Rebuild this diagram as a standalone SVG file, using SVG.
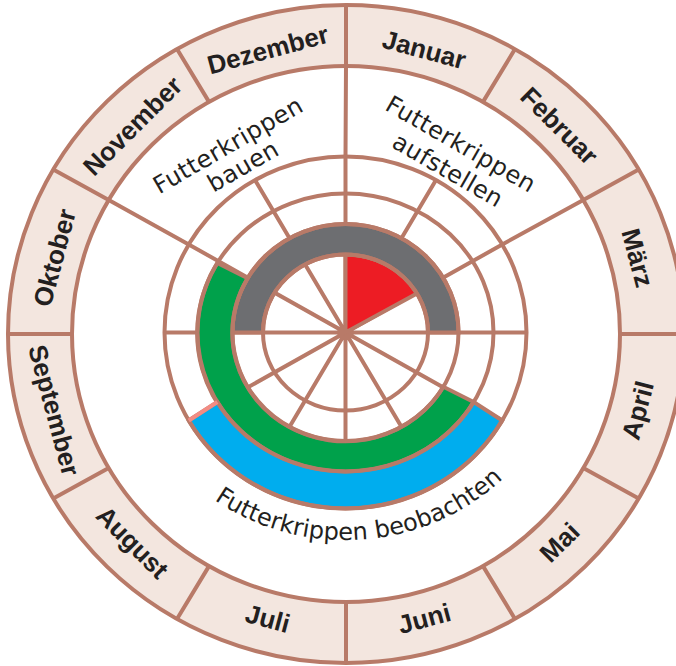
<svg xmlns="http://www.w3.org/2000/svg" width="676" height="666" viewBox="0 0 676 666">
<style>
.ln{stroke:#b87a68;stroke-width:4;fill:none;stroke-linecap:butt}
.fl{stroke:#b87a68;stroke-width:4;stroke-linejoin:miter}
.mo{font-family:"Liberation Sans",Arial,sans-serif;font-weight:bold;font-size:26px;fill:#231f20;text-anchor:middle}
.lb{font-family:"DejaVu Sans","Liberation Sans",sans-serif;font-size:24px;fill:#231f20;text-anchor:middle;letter-spacing:0.5px}
</style>
<rect width="676" height="666" fill="#ffffff"/>
<g id="month-ring">
  <ellipse cx="346" cy="334" rx="338" ry="329" fill="#f3e6df" class="fl"/>
  <ellipse cx="346" cy="334" rx="274" ry="268" fill="#ffffff" class="fl"/>
  <path class="ln" d="M620 334L684 334M583.29 200L638.72 169.5M483 101.91L515 49.08M346 66L346 5M209 101.91L177 49.08M108.71 200L53.28 169.5M72 334L8 334M108.71 468L53.28 498.5M209 566.09L177 618.92M346 602L346 663M483 566.09L515 618.92M583.29 468L638.72 498.5"/>
</g>
<g id="connectors">
  <path class="ln" d="M164.5 332.5L526.5 332.5M502.25 244.5L188.75 420.5M436 180.08L255 484.92M345.5 156.5L345.5 508.5M255 180.08L436 484.92M188.75 244.5L502.25 420.5M502.25 244.5L583.29 200M345.5 156.5L346 66M188.75 244.5L108.71 200"/>
</g>
<g id="fills">
  <path id="red" class="fl" fill="#ed1c24" d="M345.5 332.5L345.5 254.5A82.5 78 0 0 1 416.95 293.5Z"/>
  <path id="gray" class="fl" fill="#6d6e71" d="M232.5 332.5A113 108.5 0 0 1 458.5 332.5L428 332.5A82.5 78 0 0 0 263 332.5Z"/>
  <path id="green" class="fl" fill="#00a14b" d="M217.33 263A148 139 0 1 0 473.67 402L443.36 386.75A113 108.5 0 1 1 247.64 278.25Z"/>
  <path id="blue" class="fl" fill="#00adee" d="M188.75 420.5A181 176 0 0 0 502.25 420.5L473.67 402A148 139 0 0 1 217.33 402Z"/>
</g>
<g id="rings">
  <ellipse class="ln" cx="345.5" cy="332.5" rx="82.5" ry="78"/>
  <ellipse class="ln" cx="345.5" cy="332.5" rx="113" ry="108.5"/>
  <ellipse class="ln" cx="345.5" cy="332.5" rx="148" ry="139"/>
  <ellipse class="ln" cx="345.5" cy="332.5" rx="181" ry="176"/>
  <path d="M217.33 402L188.75 420.5" stroke="#f28c84" stroke-width="4" fill="none"/>
</g>
<g id="months">
  <text class="mo" transform="translate(424.2,49.5) rotate(15)" dy="0.35em">Januar</text>
  <text class="mo" transform="translate(559.5,125.8) rotate(45)" dy="0.35em">Februar</text>
  <text class="mo" transform="translate(637.7,257.8) rotate(75)" dy="0.35em">März</text>
  <text class="mo" transform="translate(637.7,410.2) rotate(-75)" dy="0.35em">April</text>
  <text class="mo" transform="translate(559.5,542.2) rotate(-45)" dy="0.35em">Mai</text>
  <text class="mo" transform="translate(424.2,618.5) rotate(-15)" dy="0.35em">Juni</text>
  <text class="mo" transform="translate(267.8,618.5) rotate(15)" dy="0.35em">Juli</text>
  <text class="mo" transform="translate(132.5,542.2) rotate(45)" dy="0.35em">August</text>
  <text class="mo" transform="translate(54.3,410.2) rotate(75)" dy="0.35em">September</text>
  <text class="mo" transform="translate(54.3,257.8) rotate(-75)" dy="0.35em">Oktober</text>
  <text class="mo" transform="translate(132.5,125.8) rotate(-45)" dy="0.35em">November</text>
  <text class="mo" transform="translate(267.8,49.5) rotate(-15)" dy="0.35em">Dezember</text>
</g>
<g id="label-bauen">
  <text class="lb" transform="translate(228,145) rotate(-30)" dy="0.35em">Futterkrippen</text>
  <text class="lb" transform="translate(243,166) rotate(-30)" dy="0.35em">bauen</text>
</g>
<g id="label-aufstellen">
  <text class="lb" transform="translate(461,144) rotate(30)" dy="0.35em">Futterkrippen</text>
  <text class="lb" transform="translate(448,170) rotate(30)" dy="0.35em">aufstellen</text>
</g>
<g id="label-beobachten">
  <defs><path id="arcB" d="M123.5 332.5A222 207.5 0 0 0 567.5 332.5"/></defs>
  <text class="lb" style="letter-spacing:0"><textPath href="#arcB" startOffset="52.5%">Futterkrippen beobachten</textPath></text>
</g>
</svg>
